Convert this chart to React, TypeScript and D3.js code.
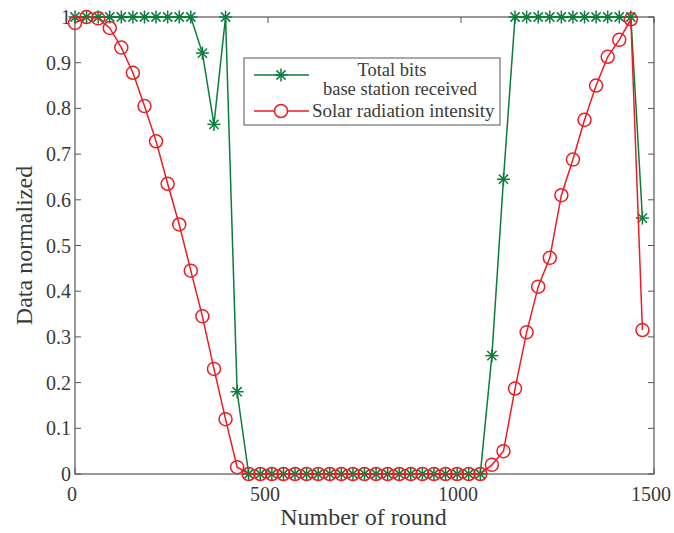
import React from "react";
import * as d3 from "d3";

const rounds: number[] = Array.from({ length: 50 }, (_, i) => 30 * i);

const totalBits: number[] = [
  1, 1, 1, 1, 1, 1, 1, 1, 1, 1,
  1, 0.921, 0.765, 1, 0.18, 0, 0, 0, 0, 0,
  0, 0, 0, 0, 0, 0, 0, 0, 0, 0,
  0, 0, 0, 0, 0, 0, 0.259, 0.645, 1, 1,
  1, 1, 1, 1, 1, 1, 1, 1, 1, 0.56,
];

const solar: number[] = [
  0.987, 1.0, 0.997, 0.976, 0.933, 0.878, 0.805, 0.728, 0.635, 0.546,
  0.445, 0.345, 0.23, 0.12, 0.015, 0, 0, 0, 0, 0,
  0, 0, 0, 0, 0, 0, 0, 0, 0, 0,
  0, 0, 0, 0, 0, 0, 0.02, 0.05, 0.187, 0.31,
  0.41, 0.473, 0.61, 0.688, 0.775, 0.85, 0.913, 0.95, 0.995, 0.315,
];

const xTicks: number[] = [0, 500, 1000, 1500];
const yTicks: number[] = [0, 0.1, 0.2, 0.3, 0.4, 0.5, 0.6, 0.7, 0.8, 0.9, 1];

const W = 674;
const H = 533;
const L = 75;
const R = 654;
const T = 17;
const B = 474;

const GREEN = "#0b7d3b";
const RED = "#ed1c24";
const AX = "#555555";
const TXT = "#3a3a3a";
const FONT = "'Liberation Serif', 'Times New Roman', serif";

function Star({ x, y, s, color }: { x: number; y: number; s: number; color: string }) {
  const d = s * 0.7071;
  return (
    <g stroke={color} strokeWidth={1.5}>
      <line x1={x - s} y1={y} x2={x + s} y2={y} />
      <line x1={x} y1={y - s} x2={x} y2={y + s} />
      <line x1={x - d} y1={y - d} x2={x + d} y2={y + d} />
      <line x1={x - d} y1={y + d} x2={x + d} y2={y - d} />
    </g>
  );
}

export default function App() {
  const x = d3.scaleLinear().domain([0, 1500]).range([L, R]);
  const y = d3.scaleLinear().domain([0, 1]).range([B, T]);
  const line = d3
    .line<[number, number]>()
    .x((d) => x(d[0]))
    .y((d) => y(d[1]));
  const gData: [number, number][] = rounds.map((r, i) => [r, totalBits[i]]);
  const rData: [number, number][] = rounds.map((r, i) => [r, solar[i]]);

  return (
    <svg width={W} height={H} style={{ position: "absolute", left: 0, top: 0, background: "#fff" }}>
      <rect x={0} y={0} width={W} height={H} fill="#fff" />
      {xTicks.map((t) => (
        <g key={"xt" + t}>
          <line x1={x(t)} x2={x(t)} y1={B} y2={B - 6} stroke={AX} strokeWidth={1} />
          <line x1={x(t)} x2={x(t)} y1={T} y2={T + 6} stroke={AX} strokeWidth={1} />
          <text x={x(t) - 3} y={B + 27} textAnchor="middle" fontFamily={FONT} fontSize={20} fill={TXT}>
            {t}
          </text>
        </g>
      ))}
      {yTicks.map((t) => (
        <g key={"yt" + t}>
          <line x1={L} x2={L + 6} y1={y(t)} y2={y(t)} stroke={AX} strokeWidth={1} />
          <line x1={R} x2={R - 6} y1={y(t)} y2={y(t)} stroke={AX} strokeWidth={1} />
          <text x={L - 4} y={y(t) + 7} textAnchor="end" fontFamily={FONT} fontSize={20} fill={TXT}>
            {String(t)}
          </text>
        </g>
      ))}
      <rect x={L} y={T} width={R - L} height={B - T} fill="none" stroke={AX} strokeWidth={1.2} />
      <path d={line(gData) || ""} fill="none" stroke={GREEN} strokeWidth={1.5} />
      {gData.map((d, i) => (
        <Star key={"g" + i} x={x(d[0])} y={y(d[1])} s={6.5} color={GREEN} />
      ))}
      <path d={line(rData) || ""} fill="none" stroke={RED} strokeWidth={1.5} />
      {rData.map((d, i) => (
        <circle key={"r" + i} cx={x(d[0])} cy={y(d[1])} r={6.5} fill="none" stroke={RED} strokeWidth={1.5} />
      ))}
      <text x={(L + R) / 2 - 1} y={525} textAnchor="middle" fontFamily={FONT} fontSize={24} fill={TXT}>
        Number of round
      </text>
      <text
        transform={`translate(32, ${(T + B) / 2}) rotate(-90)`}
        textAnchor="middle"
        fontFamily={FONT}
        fontSize={24}
        fill={TXT}
      >
        Data normalized
      </text>
      <g>
        <rect x={244} y={58} width={256} height={67} fill="#fff" stroke={AX} strokeWidth={1} />
        <line x1={254} x2={309} y1={75} y2={75} stroke={GREEN} strokeWidth={1.5} />
        <Star x={281} y={75} s={6.5} color={GREEN} />
        <text x={392} y={76} textAnchor="middle" fontFamily={FONT} fontSize={18.5} fill={TXT}>
          Total bits
        </text>
        <text x={400} y={95} textAnchor="middle" fontFamily={FONT} fontSize={18.5} fill={TXT}>
          base station received
        </text>
        <line x1={254} x2={309} y1={111} y2={111} stroke={RED} strokeWidth={1.5} />
        <circle cx={281} cy={111} r={6.5} fill="#fff" stroke={RED} strokeWidth={1.5} />
        <text x={312} y={117} fontFamily={FONT} fontSize={19} fill={TXT}>
          Solar radiation intensity
        </text>
      </g>
    </svg>
  );
}
